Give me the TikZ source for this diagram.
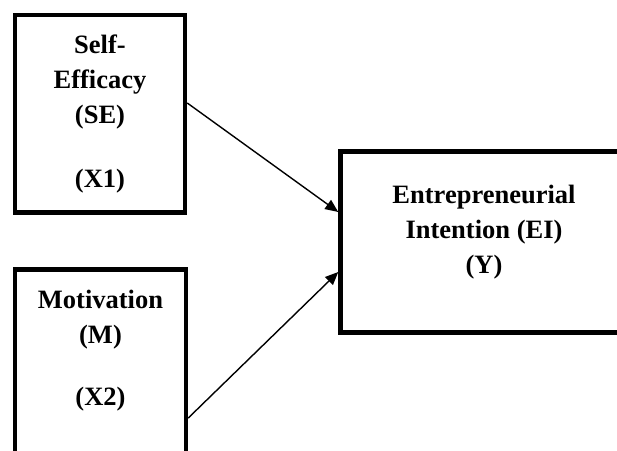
\documentclass[tikz,border=0pt]{standalone}
\usepackage{fontspec}
\setmainfont{Liberation Serif}
\usetikzlibrary{arrows.meta}
\tikzset{varbox/.style={
    draw, line width=4.5pt, inner sep=0pt, minimum width=#1
  },
  varbox/.default={170pt},
  vartext/.style={
    font=\fontsize{26.5}{35}\selectfont\bfseries,
    align=center, inner sep=0pt, anchor=base
  },
  effect/.style={-{Triangle[length=13pt,width=11pt]}, line width=1.4pt}
}

\begin{document}
\begin{tikzpicture}[x=1pt,y=-1pt]
  \clip (0,0) rectangle (617,450);
  \node[varbox, minimum height=197.5pt] (se) at (100,113.75) {};
  \node[varbox=171pt, minimum height=210.5pt] (mo) at (100.5,374.75) {};
  \node[varbox=299.5pt, minimum height=181pt] (ei) at (490.25,242) {};
  \node[vartext] (se text) at (100,187) {Self-\\Efficacy\\(SE)\\[29pt](X1)};
  \node[vartext] (mo text) at (100.5,405) {Motivation\\(M)\\[27pt](X2)};
  \node[vartext] (ei text) at (484,273) {Entrepreneurial\\Intention (EI)\\(Y)};
  \draw[effect] ([yshift=10.75pt]se.east) -- ([yshift=30pt]ei.west);
  \draw[effect] ([yshift=-43.25pt]mo.east) -- ([yshift=-30pt]ei.west);
\end{tikzpicture}
\end{document}
